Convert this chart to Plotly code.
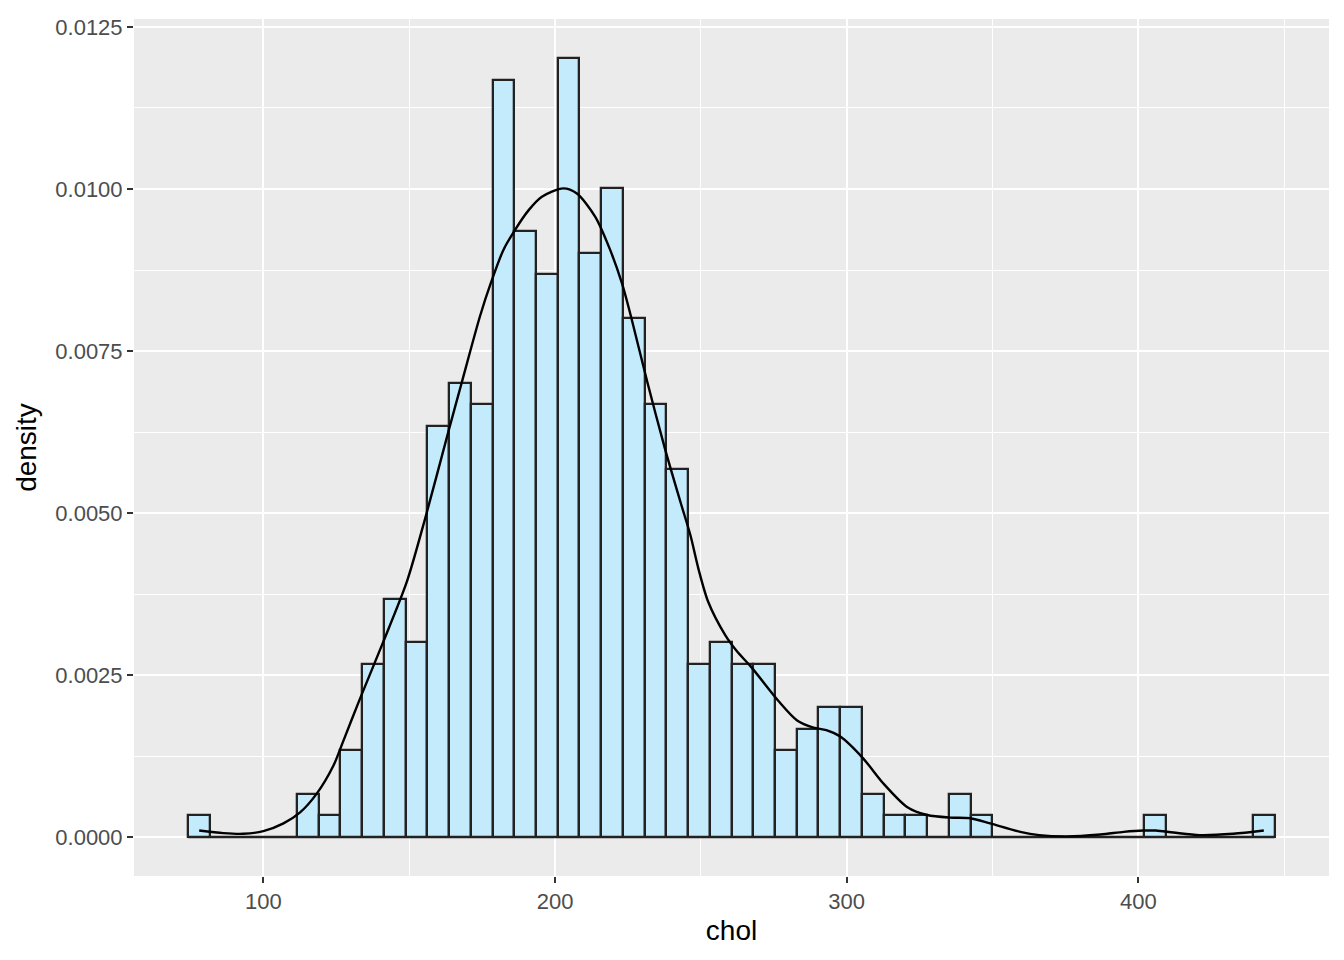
import plotly.graph_objects as go

# Histogram of chol: 50 bins from min to max (ggplot style, centred on min)
chol_min = 78
chol_max = 443
n_bins = 50
counts = [1, 0, 0, 0, 0, 2, 1, 4, 8, 11,
          9, 19, 21, 20, 35, 28, 26, 36, 27, 30,
          24, 20, 17, 8, 9, 8, 8, 4, 5, 6,
          6, 2, 1, 1, 0, 2, 1, 0, 0, 0,
          0, 0, 0, 0, 1, 0, 0, 0, 0, 1]

# Kernel density curve
density_x = [78, 86.3, 93.1, 100, 106.9, 112.6, 118.3, 124, 127.4, 133,
             141, 149.2, 155.8, 163.4, 168, 174.3, 178, 182.3, 186.3, 190.9,
             195.5, 202.8, 207.5, 213.8, 218.9, 222.9, 226, 231.7, 237.7, 243,
             246.4, 249.1, 252.5, 258.3, 262.3, 267.5, 276.6, 283, 288.6, 293,
             297.8, 305.7, 312.5, 320.8, 327.6, 335.5, 342.4, 349.2, 359.5, 366,
             375.6, 387, 395, 401.7, 406, 412, 421, 432.5, 443]
density_y = [0.00010, 0.00006, 0.00005, 0.00009, 0.00021, 0.00038, 0.00067, 0.00110, 0.00148, 0.00212,
             0.00300, 0.00394, 0.00497, 0.00625, 0.00701, 0.00804, 0.00855, 0.00906, 0.00937, 0.00967,
             0.00988, 0.01001, 0.00993, 0.00957, 0.00906, 0.00855, 0.00804, 0.00701, 0.00599, 0.00517,
             0.00466, 0.00415, 0.00363, 0.00312, 0.00287, 0.00261, 0.00210, 0.00180, 0.00169, 0.00165,
             0.00155, 0.00121, 0.00083, 0.00046, 0.00034, 0.00030, 0.00029, 0.00021, 0.00008, 0.00003,
             0.00001, 0.00004, 0.00008, 0.00010, 0.00010, 0.00007, 0.00003, 0.00005, 0.00010]

# Bin geometry and densities
binwidth = (chol_max - chol_min) / (n_bins - 1)
centers = [chol_min + i * binwidth for i in range(n_bins)]
n_obs = sum(counts)
density = [c / (n_obs * binwidth) for c in counts]
lo = centers[0] - binwidth / 2
hi = centers[-1] + binwidth / 2

# ggplot-like 5% expansion
xpad = (hi - lo) * 0.05
ypad = max(density) * 0.05

fig = go.Figure()

# zero-height bins still show their outline at y = 0
fig.add_trace(go.Scatter(x=[lo, hi], y=[0, 0], mode="lines",
                         line=dict(color="#222222", width=2.3),
                         hoverinfo="skip", showlegend=False))

fig.add_trace(go.Bar(x=centers, y=density, width=binwidth,
                     marker=dict(color="#C4EBFC",
                                 line=dict(color="#222222", width=2.3)),
                     showlegend=False))

fig.add_trace(go.Scatter(x=density_x, y=density_y, mode="lines",
                         line=dict(color="black", width=2.4, shape="spline",
                                   smoothing=0.8),
                         showlegend=False))

axis_font = dict(family="Liberation Sans, Arial, sans-serif", size=22, color="#4D4D4D")
title_font = dict(family="Liberation Sans, Arial, sans-serif", size=28, color="black")

# the page body has an 8px margin, so shift the plot area up/left by that
fig.update_layout(
    width=1344, height=960,
    margin=dict(l=126, r=23, t=7, b=92),
    plot_bgcolor="#EBEBEB", paper_bgcolor="white",
    bargap=0,
    font=dict(family="Liberation Sans, Arial, sans-serif"),
)
fig.update_xaxes(
    range=[lo - xpad, hi + xpad],
    tickvals=[100, 200, 300, 400],
    showgrid=True, gridcolor="white", gridwidth=2.2,
    minor=dict(dtick=50, tick0=0, showgrid=True, gridcolor="white",
               gridwidth=1.1, ticks=""),
    zeroline=False, showline=False,
    ticks="outside", ticklen=6, tickwidth=2, tickcolor="#333333",
    tickfont=axis_font,
    title=dict(text="chol", font=title_font, standoff=6),
)
fig.update_yaxes(
    range=[-ypad, max(density) + ypad],
    tickvals=[0, 0.0025, 0.005, 0.0075, 0.01, 0.0125],
    tickformat=".4f",
    showgrid=True, gridcolor="white", gridwidth=2.2,
    minor=dict(dtick=0.00125, tick0=0, showgrid=True, gridcolor="white",
               gridwidth=1.1, ticks=""),
    zeroline=False, showline=False,
    ticks="outside", ticklen=6, tickwidth=2, tickcolor="#333333",
    tickfont=axis_font,
    title=dict(text="density", font=title_font, standoff=10),
)

fig.write_html("out.html")
